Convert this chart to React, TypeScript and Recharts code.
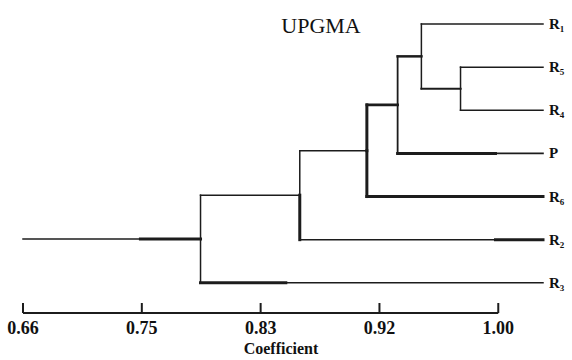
import { LineChart, Line, XAxis, YAxis, ReferenceLine } from 'recharts'

// leaves from top to bottom, all ending at the same coefficient
const leafNames = ['R1', 'R5', 'R4', 'P', 'R6', 'R2', 'R3']
const leafEnd = 1.032

// internal nodes of the UPGMA tree (children must be defined first)
const nodeIds = ['F', 'E', 'D', 'C', 'B', 'A']
const nodeCoef = [0.973, 0.945, 0.928, 0.906, 0.858, 0.787]
const nodeLeft = ['R5', 'R1', 'E', 'D', 'C', 'B']
const nodeRight = ['R4', 'F', 'P', 'R6', 'R2', 'R3']
const rootStart = 0.66

const tickValues = [0.66, 0.745, 0.83, 0.915, 1.0]
const tickLabels = ['0.66', '0.75', '0.83', '0.92', '1.00']

// line weights of the branches going to each child (horizontal / vertical)
const hWidth: Record<string, number> = { E: 2.5, F: 2, D: 2.6, P: 1.6, R6: 3 }
const vWidth: Record<string, number> = { 'C-D': 3, 'C-R6': 3, 'B-R2': 3, 'D-E': 1.8, 'D-P': 1.8 }
// parts of branches drawn heavier in the original
const boldAt = ['A', 'R3', 'R2', 'P']
const boldFrom = [0.744, 0.787, 0.998, 0.928]
const boldTo = [0.787, 0.848, 1.032, 0.998]

const INK = '#1c1c1c'
const SERIF = '"Liberation Serif", "DejaVu Serif", serif'

type Pt = { x: number; y: number }

const pos: Record<string, Pt> = {}
leafNames.forEach((n, i) => (pos[n] = { x: leafEnd, y: i }))
nodeIds.forEach((id, i) => {
  const l = pos[nodeLeft[i]]
  const r = pos[nodeRight[i]]
  pos[id] = { x: nodeCoef[i], y: (l.y + r.y) / 2 }
})

const segments: { pts: Pt[]; w: number }[] = []
nodeIds.forEach((id, i) => {
  const n = pos[id]
  ;[nodeLeft[i], nodeRight[i]].forEach((c) => {
    const ch = pos[c]
    segments.push({ pts: [{ x: n.x, y: n.y }, { x: n.x, y: ch.y }], w: vWidth[id + '-' + c] ?? 1.5 })
    segments.push({ pts: [{ x: n.x, y: ch.y }, { x: ch.x, y: ch.y }], w: hWidth[c] ?? 1.5 })
  })
})
const root = pos['A']
segments.push({ pts: [{ x: rootStart, y: root.y }, { x: root.x, y: root.y }], w: 1.5 })
boldAt.forEach((k, i) => {
  const y = pos[k].y
  segments.push({ pts: [{ x: boldFrom[i], y }, { x: boldTo[i], y }], w: 3 })
})

const AxisTick = (props: any) => {
  const { x, y, index } = props
  return (
    <g>
      <line x1={x} x2={x} y1={y - 10} y2={y} stroke={INK} strokeWidth={2} />
      <text x={x} y={y + 21} textAnchor="middle" fill="#111" fontFamily={SERIF} fontWeight="bold" fontSize={18}>
        {tickLabels[index]}
      </text>
    </g>
  )
}

const LeafTick = (props: any) => {
  const { x, y, payload } = props
  const name: string = leafNames[payload.value] ?? ''
  return (
    <text x={x} y={y + 5} textAnchor="start" fill="#111" fontFamily={SERIF} fontWeight="bold" fontSize={15}>
      {name[0]}
      {name.length > 1 && (
        <tspan fontSize={9} dy={3}>
          {name.slice(1)}
        </tspan>
      )}
    </text>
  )
}

export default function App() {
  return (
    <div style={{ position: 'absolute', left: 0, top: 0, width: 572, height: 360, background: '#fff' }}>
      <LineChart width={572} height={360} margin={{ top: 24, right: 0, left: 23, bottom: 17 }}>
        <XAxis
          type="number"
          dataKey="x"
          domain={[rootStart, leafEnd]}
          ticks={tickValues}
          interval={0}
          axisLine={false}
          tickLine={false}
          tickSize={0}
          tickMargin={0}
          height={30}
          tick={<AxisTick />}
        />
        <YAxis
          type="number"
          orientation="right"
          domain={[0, 6.7]}
          reversed
          ticks={[0, 1, 2, 3, 4, 5, 6]}
          interval={0}
          axisLine={false}
          tickLine={false}
          tickSize={0}
          tickMargin={6}
          width={29}
          tick={<LeafTick />}
        />
        <ReferenceLine
          segment={[
            { x: 0.66, y: 6.7 },
            { x: 1.0, y: 6.7 },
          ]}
          stroke={INK}
          strokeWidth={2}
        />
        {segments.map((s, i) => (
          <Line
            key={i}
            data={s.pts}
            dataKey="y"
            type="linear"
            stroke={INK}
            strokeWidth={s.w}
            strokeLinecap="square"
            dot={false}
            activeDot={false}
            isAnimationActive={false}
          />
        ))}
      </LineChart>
      <svg width={572} height={360} style={{ position: 'absolute', left: 0, top: 0, pointerEvents: 'none' }}>
        <text x={321} y={33} textAnchor="middle" fill="#111" fontFamily={SERIF} fontSize={22}>
          UPGMA
        </text>
        <text x={281} y={354} textAnchor="middle" fill="#111" fontFamily={SERIF} fontWeight="bold" fontSize={16}>
          Coefficient
        </text>
      </svg>
    </div>
  )
}
